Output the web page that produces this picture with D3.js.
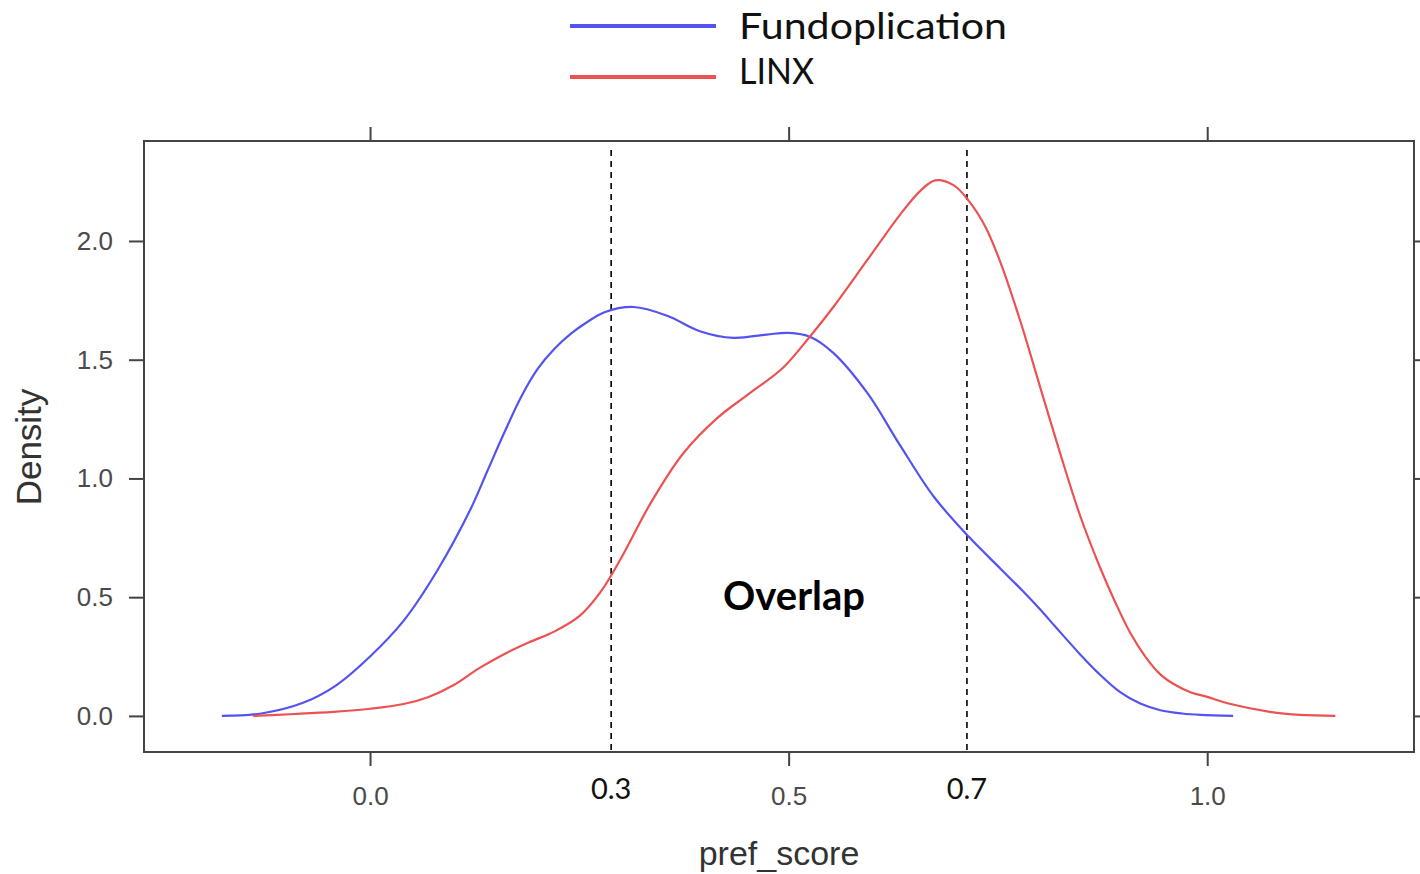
<!DOCTYPE html>
<html>
<head>
<meta charset="utf-8">
<script src="https://cdn.jsdelivr.net/npm/d3@7"></script>
<style>
  html, body { margin: 0; padding: 0; background: #fff; }
  svg { display: block; }
</style>
</head>
<body>
<svg id="chart" width="1420" height="874"></svg>
<script>
// ---- data ----
const seriesNames = ["Fundoplication", "LINX"];
const seriesColors = ["#5353f0", "#ec5252"];

const fundoX = [-0.177, -0.13, -0.08, -0.04, 0.0, 0.04, 0.08, 0.12, 0.14, 0.16, 0.18, 0.20, 0.22, 0.24, 0.26, 0.28, 0.315, 0.355, 0.394, 0.434, 0.474, 0.50, 0.526, 0.553, 0.594, 0.633, 0.673, 0.715, 0.753, 0.78, 0.80, 0.82, 0.848, 0.87, 0.896, 0.92, 0.944, 0.97, 0.992, 1.031];
const fundoY = [0.000, 0.010, 0.055, 0.130, 0.250, 0.400, 0.610, 0.870, 1.030, 1.190, 1.340, 1.460, 1.545, 1.610, 1.660, 1.700, 1.722, 1.685, 1.620, 1.592, 1.606, 1.613, 1.596, 1.530, 1.360, 1.140, 0.925, 0.755, 0.620, 0.525, 0.450, 0.370, 0.260, 0.180, 0.100, 0.052, 0.024, 0.010, 0.004, 0.000];

const linxX = [-0.140, -0.09, -0.044, 0.0, 0.04, 0.07, 0.10, 0.13, 0.16, 0.19, 0.22, 0.25, 0.275, 0.30, 0.335, 0.374, 0.415, 0.454, 0.493, 0.526, 0.553, 0.594, 0.633, 0.657, 0.675, 0.697, 0.715, 0.735, 0.753, 0.777, 0.80, 0.824, 0.848, 0.872, 0.89, 0.908, 0.926, 0.944, 0.962, 0.98, 1.0, 1.028, 1.075, 1.111, 1.153];
const linxY = [0.000, 0.008, 0.017, 0.030, 0.050, 0.080, 0.130, 0.200, 0.260, 0.310, 0.355, 0.420, 0.520, 0.665, 0.895, 1.105, 1.255, 1.360, 1.465, 1.600, 1.720, 1.920, 2.110, 2.210, 2.255, 2.235, 2.170, 2.060, 1.910, 1.660, 1.390, 1.110, 0.845, 0.625, 0.480, 0.350, 0.250, 0.175, 0.130, 0.100, 0.080, 0.050, 0.017, 0.004, 0.000];

const xTicks = [0.0, 0.5, 1.0];
const yTicks = [0.0, 0.5, 1.0, 1.5, 2.0];
const overlapBounds = [0.288, 0.713];
const overlapLabels = ["0.3", "0.7"];
const xTitle = "pref_score";
const yTitle = "Density";
const annotation = "Overlap";

// ---- layout ----
const svg = d3.select("#chart");
const plot = { left: 144, right: 1414, top: 141, bottom: 752 };
const x = d3.scaleLinear().domain([-0.27, 1.247]).range([plot.left, plot.right]);
const y = d3.scaleLinear().domain([-0.152, 2.421]).range([plot.bottom, plot.top]);

const axisColor = "#444";
const axisFont = "'Liberation Sans', Arial, Helvetica, sans-serif";
const gothicFont = "Lato, 'Noto Sans', sans-serif";

// axes
function styleAxis(g) {
  g.select(".domain").remove();
  g.selectAll(".tick line").attr("stroke", axisColor).attr("stroke-width", 2);
  g.selectAll(".tick text").attr("fill", "#4a4a4a").attr("font-family", axisFont).attr("font-size", 26);
}
svg.append("g").attr("transform", `translate(0,${plot.bottom})`)
  .call(d3.axisBottom(x).tickValues(xTicks).tickSize(14).tickPadding(21).tickFormat(d3.format(".1f")))
  .call(styleAxis);
svg.append("g").attr("transform", `translate(0,${plot.top})`)
  .call(d3.axisTop(x).tickValues(xTicks).tickSize(14).tickFormat(""))
  .call(styleAxis);
svg.append("g").attr("transform", `translate(${plot.left},0)`)
  .call(d3.axisLeft(y).tickValues(yTicks).tickSize(15).tickPadding(16).tickFormat(d3.format(".1f")))
  .call(styleAxis);
svg.append("g").attr("transform", `translate(${plot.right},0)`)
  .call(d3.axisRight(y).tickValues(yTicks).tickSize(14).tickFormat(""))
  .call(styleAxis);

// box
svg.append("rect")
  .attr("x", plot.left).attr("y", plot.top)
  .attr("width", plot.right - plot.left).attr("height", plot.bottom - plot.top)
  .attr("fill", "none").attr("stroke", axisColor).attr("stroke-width", 2);

// dashed overlap bounds
svg.selectAll(".bound").data(overlapBounds).enter().append("line")
  .attr("x1", d => x(d)).attr("x2", d => x(d))
  .attr("y1", y(2.383)).attr("y2", plot.bottom)
  .attr("stroke", "#000").attr("stroke-width", 1.6).attr("stroke-dasharray", "6,5");
svg.selectAll(".boundLabel").data(overlapBounds).enter().append("text")
  .attr("x", d => x(d)).attr("y", 799)
  .attr("text-anchor", "middle")
  .attr("font-family", gothicFont).attr("font-size", 29).attr("fill", "#111")
  .text((d, i) => overlapLabels[i]);

// curves
const line = d3.line().x(d => x(d[0])).y(d => y(d[1])).curve(d3.curveCatmullRom.alpha(0.5));
const seriesData = [d3.zip(fundoX, fundoY), d3.zip(linxX, linxY)];
seriesData.forEach((pts, i) => {
  svg.append("path").datum(pts)
    .attr("d", line)
    .attr("fill", "none")
    .attr("stroke", seriesColors[i])
    .attr("stroke-width", 2.2);
});

// annotation
svg.append("text")
  .attr("x", x((overlapBounds[0] + overlapBounds[1]) / 2) + 5).attr("y", 610)
  .attr("text-anchor", "middle")
  .attr("font-family", gothicFont).attr("font-weight", "bold").attr("font-size", 40).attr("fill", "#000")
  .text(annotation);

// axis titles
svg.append("text")
  .attr("x", 779).attr("y", 865)
  .attr("text-anchor", "middle")
  .attr("font-family", axisFont).attr("font-size", 34).attr("fill", "#333")
  .text(xTitle);
svg.append("text")
  .attr("transform", "translate(41,447) rotate(-90)")
  .attr("text-anchor", "middle")
  .attr("font-family", axisFont).attr("font-size", 35).attr("fill", "#333")
  .text(yTitle);

// legend
const legendY = [26, 77];
const legendTextY = [39, 84];
const legendTextLen = [268, 75];
seriesNames.forEach((name, i) => {
  svg.append("line")
    .attr("x1", 570).attr("x2", 716)
    .attr("y1", legendY[i]).attr("y2", legendY[i])
    .attr("stroke", seriesColors[i]).attr("stroke-width", 4);
  svg.append("text")
    .attr("x", 739).attr("y", legendTextY[i])
    .attr("font-family", gothicFont).attr("font-size", 37).attr("fill", "#111")
    .attr("textLength", legendTextLen[i]).attr("lengthAdjust", "spacingAndGlyphs")
    .text(name);
});
</script>
</body>
</html>
